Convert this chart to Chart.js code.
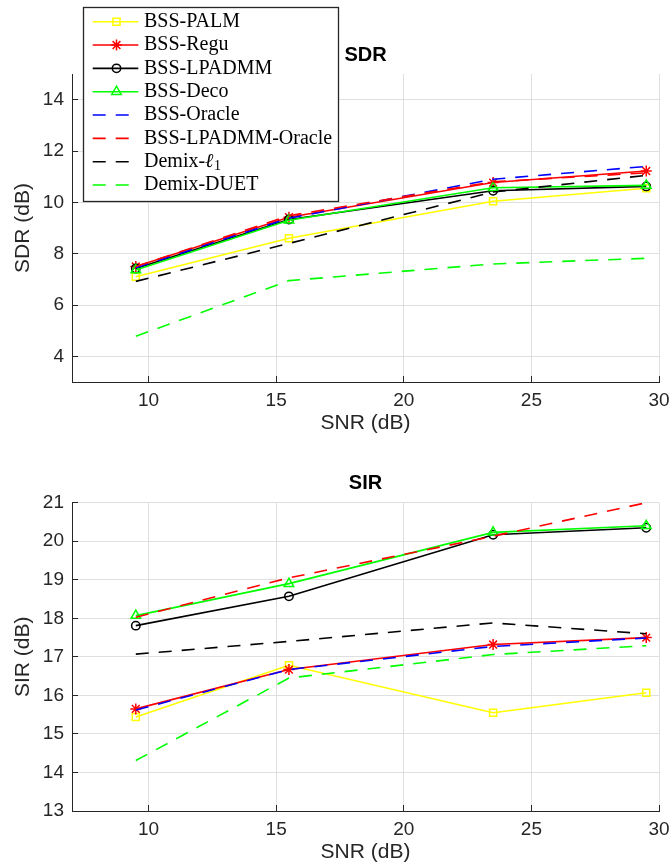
<!DOCTYPE html>
<html><head><meta charset="utf-8">
<script src="https://cdn.jsdelivr.net/npm/chart.js@4.4.1/dist/chart.umd.min.js"></script>
<style>
html,body{margin:0;padding:0;background:#fff;}
#wrap{position:relative;width:672px;height:867px;overflow:hidden;background:#fff;}
canvas{position:absolute;left:0;}
</style></head><body>
<div id="wrap">
<canvas id="c1" width="672" height="438" style="top:0"></canvas>
<canvas id="c2" width="672" height="429" style="top:438px"></canvas>
</div>
<script>
// ---- data ----
const snr = [9.5, 15.5, 23.5, 29.5];
const seriesNames = ['BSS-PALM', 'BSS-Regu', 'BSS-LPADMM', 'BSS-Deco', 'BSS-Oracle', 'BSS-LPADMM-Oracle', 'Demix-ℓ1', 'Demix-DUET'];

const sdrPalm         = [7.10, 8.60, 10.04, 10.55];
const sdrRegu         = [7.50, 9.42, 10.77, 11.22];
const sdrLpadmm       = [7.42, 9.33, 10.45, 10.62];
const sdrDeco         = [7.36, 9.30, 10.57, 10.66];
const sdrOracle       = [7.45, 9.38, 10.90, 11.40];
const sdrLpadmmOracle = [7.50, 9.48, 10.80, 11.15];
const sdrDemixL1      = [6.92, 8.40, 10.40, 11.05];
const sdrDuet         = [4.78, 6.95, 7.60, 7.82];

const sirPalm         = [15.44, 16.78, 15.55, 16.07];
const sirRegu         = [15.65, 16.67, 17.32, 17.50];
const sirLpadmm       = [17.81, 18.57, 20.17, 20.35];
const sirDeco         = [18.07, 18.90, 20.23, 20.40];
const sirOracle       = [15.62, 16.67, 17.27, 17.49];
const sirLpadmmOracle = [18.03, 19.05, 20.13, 21.00];
const sirDemixL1      = [17.07, 17.40, 17.88, 17.60];
const sirDuet         = [14.31, 16.45, 17.06, 17.29];

const snrTicks = [10, 15, 20, 25, 30];
const sdrTicks = [4, 6, 8, 10, 12, 14];
const sirTicks = [13, 14, 15, 16, 17, 18, 19, 20, 21];

// ---- styles ----
const DASH = [13, 10];
const styles = [
  {color:'#ffff00', dash:[],   marker:'rect',     r:5},
  {color:'#ff0000', dash:[],   marker:'star',     r:5.5},
  {color:'#000000', dash:[],   marker:'circle',   r:4.2},
  {color:'#00ff00', dash:[],   marker:'triangle', r:5.5},
  {color:'#0000ff', dash:DASH, marker:null,       r:0},
  {color:'#ff0000', dash:DASH, marker:null,       r:0},
  {color:'#000000', dash:DASH, marker:null,       r:0},
  {color:'#00ff00', dash:DASH, marker:null,       r:0}
];
const AX = '#262626';
const SANS = '"Liberation Sans", Arial, Helvetica, sans-serif';
const SERIF = '"Liberation Serif", "Times New Roman", serif';

const legendPlugin = {
  id: 'boxLegend',
  afterDraw(chart, args, opts) {
    if (!opts.show) return;
    const ctx = chart.ctx;
    ctx.save();
    const x0 = 83.5, y0 = 7.5, w = 255, h = 194;
    ctx.fillStyle = '#fff';
    ctx.fillRect(x0, y0, w, h);
    ctx.strokeStyle = AX; ctx.lineWidth = 1.3; ctx.setLineDash([]);
    ctx.strokeRect(x0, y0, w, h);
    chart.data.datasets.forEach((ds, i) => {
      const cy = 21.7 + i * 23.33;
      ctx.strokeStyle = ds.borderColor;
      ctx.lineWidth = ds.borderWidth;
      ctx.setLineDash(ds.borderDash || []);
      ctx.beginPath(); ctx.moveTo(92.7, cy); ctx.lineTo(138.3, cy); ctx.stroke();
      ctx.setLineDash([]);
      if (ds.pointRadius > 0) {
        ctx.fillStyle = 'rgba(0,0,0,0)';
        ctx.strokeStyle = ds.pointBorderColor;
        ctx.lineWidth = ds.pointBorderWidth;
        Chart.helpers.drawPoint(ctx, {pointStyle: ds.pointStyle, radius: ds.pointRadius, borderWidth: ds.pointBorderWidth, rotation: 0}, 116.5, cy);
      }
      ctx.fillStyle = '#000';
      ctx.textBaseline = 'middle';
      ctx.textAlign = 'left';
      ctx.font = '20px ' + SERIF;
      const m = ds.label.match(/^(.*)ℓ(\d)$/);
      if (m) {
        ctx.fillText(m[1], 144, cy);
        let x = 144 + ctx.measureText(m[1]).width;
        ctx.font = 'italic 20px ' + SERIF;
        ctx.fillText('ℓ', x, cy);
        x += ctx.measureText('ℓ').width + 0.5;
        ctx.font = '14px ' + SERIF;
        ctx.fillText(m[2], x, cy + 5);
      } else {
        ctx.fillText(ds.label, 144, cy);
      }
    });
    ctx.restore();
  }
};

function build(id, titleText, yTitle, yMin, yMax, yTickVals, series, titlePad, showLegend) {
  return new Chart(document.getElementById(id), {
    type: 'line',
    data: {
      datasets: series.map((vals, i) => ({
        label: seriesNames[i],
        data: snr.map((x, j) => ({x: x, y: vals[j]})),
        borderColor: styles[i].color,
        borderWidth: 1.6,
        borderDash: styles[i].dash,
        pointStyle: styles[i].marker || 'circle',
        pointRadius: styles[i].marker ? styles[i].r : 0,
        pointBorderColor: styles[i].color,
        pointBackgroundColor: 'rgba(0,0,0,0)',
        pointBorderWidth: 1.5,
        fill: false,
        tension: 0,
        order: series.length - i
      }))
    },
    options: {
      responsive: false,
      animation: false,
      events: [],
      layout: {padding: {top: 0, left: 0, right: 13, bottom: 0}},
      plugins: {
        legend: {display: false},
        tooltip: {enabled: false},
        title: {display: true, fullSize: false, text: titleText, color: '#000',
                font: {family: SANS, size: 20, weight: 'bold'}, padding: titlePad},
        boxLegend: {show: showLegend}
      },
      scales: {
        x: {
          type: 'linear', min: 7, max: 30,
          afterBuildTicks: s => { s.ticks = snrTicks.map(v => ({value: v})); },
          afterFit: s => { s.height = 56; s.paddingLeft = 0; s.paddingRight = 0; },
          grid: {color: '#dfdfdf', lineWidth: 1, drawTicks: true, tickLength: -6, tickColor: AX, tickWidth: 1},
          border: {display: true, color: AX, width: 1},
          ticks: {color: AX, font: {family: SANS, size: 19}, padding: 13, maxRotation: 0, autoSkip: false},
          title: {display: true, text: 'SNR (dB)', color: AX, font: {family: SANS, size: 21}, padding: {top: 0, bottom: 2}}
        },
        y: {
          type: 'linear', min: yMin, max: yMax,
          afterBuildTicks: s => { s.ticks = yTickVals.map(v => ({value: v})); },
          afterFit: s => { s.width = 72; s.paddingTop = 0; s.paddingBottom = 0; },
          grid: {color: '#dfdfdf', lineWidth: 1, drawTicks: true, tickLength: -6, tickColor: AX, tickWidth: 1},
          border: {display: true, color: AX, width: 1},
          ticks: {color: AX, font: {family: SANS, size: 19}, padding: 14, autoSkip: false},
          title: {display: true, text: yTitle, color: AX, font: {family: SANS, size: 21}, padding: {top: 10.4, bottom: 0}}
        }
      }
    },
    plugins: [legendPlugin]
  });
}

build('c1', 'SDR', 'SDR (dB)', 3, 15, sdrTicks,
  [sdrPalm, sdrRegu, sdrLpadmm, sdrDeco, sdrOracle, sdrLpadmmOracle, sdrDemixL1, sdrDuet],
  {top: 43.5, bottom: 6.5}, true);
build('c2', 'SIR', 'SIR (dB)', 13, 21, sirTicks,
  [sirPalm, sirRegu, sirLpadmm, sirDeco, sirOracle, sirLpadmmOracle, sirDemixL1, sirDuet],
  {top: 33.5, bottom: 7.2}, false);
</script>
</body></html>
